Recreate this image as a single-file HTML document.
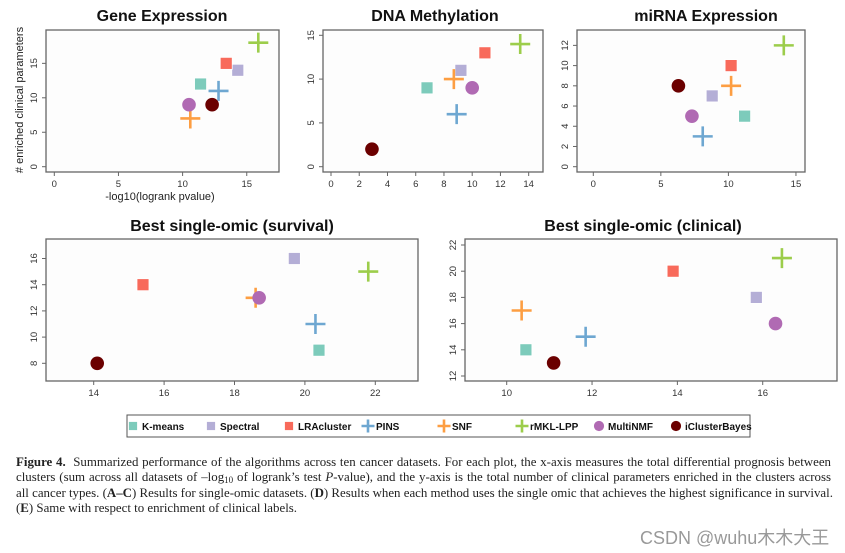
<!DOCTYPE html>
<html><head><meta charset="utf-8">
<style>
body{margin:0;background:#fff;width:845px;height:553px;overflow:hidden;position:relative;font-family:"Liberation Sans",sans-serif}
#cap{position:absolute;left:16px;top:455px;width:815px;font-family:"Liberation Serif",serif;font-size:12.9px;line-height:15.3px;color:#222}
#cap .j{text-align:justify;text-align-last:justify;white-space:nowrap}
#cap sub{font-size:9px;line-height:0;vertical-align:-2px}
#wm{position:absolute;left:640px;top:524px;font-size:18px;color:#999;font-family:"Liberation Sans","Noto Sans CJK SC",sans-serif}
</style></head><body>
<svg id="fig" width="845" height="450" style="position:absolute;left:0;top:0" font-family="Liberation Sans, sans-serif"></svg>
<div id="cap"><div class="j"><b>Figure 4.</b>&nbsp; Summarized performance of the algorithms across ten cancer datasets. For each plot, the x-axis measures the total differential prognosis between</div><div class="j">clusters (sum across all datasets of –log<sub>10</sub> of logrank’s test <i>P</i>-value), and the y-axis is the total number of clinical parameters enriched in the clusters across</div><div class="j">all cancer types. (<b>A–C</b>) Results for single-omic datasets. (<b>D</b>) Results when each method uses the single omic that achieves the highest significance in survival.</div><div>(<b>E</b>) Same with respect to enrichment of clinical labels.</div></div>
<div id="wm">CSDN @wuhu木木大王</div>
<script>
const methods=["K-means","Spectral","LRAcluster","PINS","SNF","rMKL-LPP","MultiNMF","iClusterBayes"];
const colors=["#7dcbbb","#b4aed6","#f86a5b","#6ea7d1","#fd9e42","#9ccd4b","#b06ab3","#6b0000"];
const shapes=["sq","sq","sq","plus","plus","plus","circ","circ"];
const geneX=[11.4,14.3,13.4,12.8,10.6,15.9,10.5,12.3];
const geneY=[12,14,15,11,7,18,9,9];
const methX=[6.8,9.2,10.9,8.9,8.7,13.4,10.0,2.9];
const methY=[9,11,13,6,10,14,9,2];
const mirX=[11.2,8.8,10.2,8.1,10.2,14.1,7.3,6.3];
const mirY=[5,7,10,3,8,12,5,8];
const survX=[20.4,19.7,15.4,20.3,18.6,21.8,18.7,14.1];
const survY=[9,16,14,11,13,15,13,8];
const clinX=[10.45,15.85,13.9,11.85,10.35,16.45,16.3,11.1];
const clinY=[14,18,20,15,17,21,16,13];
const geneXT=[0,5,10,15],geneYT=[0,5,10,15];
const methXT=[0,2,4,6,8,10,12,14],methYT=[0,5,10,15];
const mirXT=[0,5,10,15],mirYT=[0,2,4,6,8,10,12];
const survXT=[14,16,18,20,22],survYT=[8,10,12,14,16];
const clinXT=[10,12,14,16],clinYT=[12,14,16,18,20,22];
const NS="http://www.w3.org/2000/svg";
const svg=document.getElementById('fig');
function el(t,a,p){const e=document.createElementNS(NS,t);for(const k in a)e.setAttribute(k,a[k]);(p||svg).appendChild(e);return e;}
function panel(name,title,box,xr,yr,xt,yt,xs,ys,tx,ty){
 const g=el('g',{});
 
 
 const [x0,y0,x1,y1]=box;
 const X=v=>xr[0]+(v-xr[1])*xr[2], Y=v=>yr[0]-(v-yr[1])*yr[2];
 const t=el('text',{x:tx,y:ty,'text-anchor':'middle','font-size':'16','font-weight':'bold',fill:'#111'},g);t.textContent=title;
 
 
 el('rect',{x:x0,y:y0,width:x1-x0,height:y1-y0,fill:'#fdfdfd',stroke:'#666','stroke-width':'1.3'},g);
 xt.forEach(v=>{const x=X(v);el('line',{x1:x,x2:x,y1:y1,y2:y1+4,stroke:'#666'},g);
  const l=el('text',{x:x,y:y1+15,'text-anchor':'middle','font-size':'9.5',fill:'#333'},g);l.textContent=v;
  
  });
 yt.forEach(v=>{const y=Y(v);el('line',{x1:x0,x2:x0-4,y1:y,y2:y,stroke:'#666'},g);
  const l=el('text',{x:x0-9,y:y,'text-anchor':'middle','font-size':'9.5',fill:'#333',transform:`rotate(-90 ${x0-9} ${y})`},g);l.textContent=v;
  
  });
 xs.forEach((v,i)=>{marker(g,X(v),Y(ys[i]),i);});
 return g;
}
function marker(g,x,y,i,s){
 s=s||1;let m;
 if(shapes[i]==='sq'){m=el('rect',{x:x-6*s,y:y-6*s,width:12*s,height:12*s,fill:colors[i],stroke:'#fff','stroke-width':'0.8'},g);}
 else if(shapes[i]==='circ'){m=el('circle',{cx:x,cy:y,r:6.8*s,fill:colors[i]},g);}
 else{m=el('path',{d:`M${x-10*s} ${y}H${x+10*s}M${x} ${y-10*s}V${y+10*s}`,stroke:colors[i],'stroke-width':2.6,fill:'none'},g);}
 
 
}
panel('gene-expression','Gene Expression',[46,30,279,172],[54.3,0,12.83],[166.7,0,6.89],geneXT,geneYT,geneX,geneY,162,21);
panel('dna-methylation','DNA Methylation',[323,30,543,172],[331,0,14.12],[166.7,0,8.76],methXT,methYT,methX,methY,435,21);
panel('mirna-expression','miRNA Expression',[577,30,805,172],[593.3,0,13.51],[166.7,0,10.11],mirXT,mirYT,mirX,mirY,706,21);
panel('best-survival','Best single-omic (survival)',[46,239,418,381],[93.7,14,35.2],[363.3,8,13.1],survXT,survYT,survX,survY,232,231);
panel('best-clinical','Best single-omic (clinical)',[465,239,837,381],[506.7,10,42.67],[376,12,13.1],clinXT,clinYT,clinX,clinY,643,231);
let a=el('text',{x:160,y:200,'text-anchor':'middle','font-size':'11',fill:'#222'});a.textContent='-log10(logrank pvalue)';


a=el('text',{x:23,y:100,'text-anchor':'middle','font-size':'11',fill:'#222',transform:'rotate(-90 23 100)'});a.textContent='# enriched clinical parameters';


const lg=el('g',{});


el('rect',{x:127,y:415,width:623,height:22,fill:'#fff',stroke:'#555','stroke-width':'1'},lg);
const legX=[133,211,289,367,443,521,599,676];
methods.forEach((m,i)=>{const e=el('g',{},lg);
 
 
 const cx=legX[i]+ (shapes[i]==='plus'?1:0);
 marker(e,cx,426,i,shapes[i]==='plus'?0.65:0.75);
 const t=el('text',{x:legX[i]+9,y:430,'font-size':'10','font-weight':'bold',fill:'#111'},e);t.textContent=m;});
</script>
</body></html>
